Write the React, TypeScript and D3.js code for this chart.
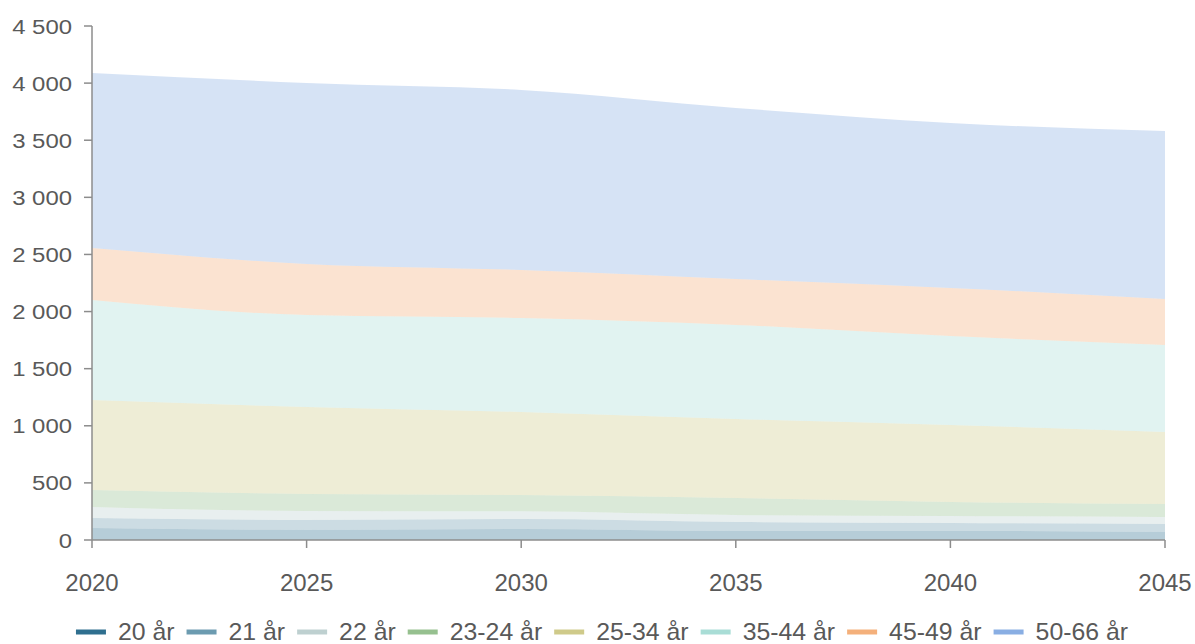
import React, { useRef, useEffect } from "react";
import * as d3 from "d3";

const years = [2020, 2025, 2030, 2035, 2040, 2045];
const groups = ["20 år", "21 år", "22 år", "23-24 år", "25-34 år", "35-44 år", "45-49 år", "50-66 år"];
const age20 = [105, 88, 96, 79, 79, 70];
const age21 = [88, 87, 88, 79, 70, 70];
const age22 = [96, 79, 67, 61, 61, 61];
const age23to24 = [149, 149, 143, 149, 123, 114];
const age25to34 = [788, 762, 727, 692, 674, 631];
const age35to44 = [876, 805, 823, 823, 779, 762];
const age45to49 = [455, 447, 420, 402, 421, 402];
const age50to66 = [1532, 1585, 1576, 1498, 1444, 1471];
const yTicks = [0, 500, 1000, 1500, 2000, 2500, 3000, 3500, 4000, 4500];
const colors = ["#2f6f8f", "#6c9bb0", "#bed0d0", "#96c08f", "#cfca8a", "#a9ddd6", "#f4b07b", "#89aee3"];

const W = 1195;
const H = 644;

const App: React.FC = () => {
  const svgRef = useRef<SVGSVGElement | null>(null);

  useEffect(() => {
    if (!svgRef.current) return;
    const svg = d3.select(svgRef.current);
    svg.selectAll("*").remove();

    const series = [age20, age21, age22, age23to24, age25to34, age35to44, age45to49, age50to66];
    const rows = years.map((yr, i) => {
      const r: any = { year: yr };
      groups.forEach((g, k) => (r[g] = series[k][i]));
      return r;
    });

    const x = d3.scaleLinear().domain([2020, 2045]).range([92, 1165]);
    const y = d3.scaleLinear().domain([0, 4500]).range([540, 26]);

    const stacked = d3.stack<any>().keys(groups)(rows);
    const area = d3
      .area<any>()
      .x((d) => x(d.data.year))
      .y0((d) => y(d[0]))
      .y1((d) => y(d[1]))
      .curve(d3.curveMonotoneX);

    svg
      .append("g")
      .selectAll("path")
      .data(stacked)
      .enter()
      .append("path")
      .attr("d", area as any)
      .attr("fill", (d, i) => colors[i])
      .attr("fill-opacity", 0.35);

    const axisColor = "#8c8c8c";
    const textColor = "#595959";

    // y axis
    const yAxis = svg.append("g");
    yAxis
      .append("line")
      .attr("x1", 92)
      .attr("x2", 92)
      .attr("y1", y(4500))
      .attr("y2", y(0))
      .attr("stroke", axisColor)
      .attr("stroke-width", 1.5);
    yTicks.forEach((t) => {
      yAxis
        .append("line")
        .attr("x1", 84)
        .attr("x2", 92)
        .attr("y1", y(t))
        .attr("y2", y(t))
        .attr("stroke", axisColor)
        .attr("stroke-width", 1.5);
      yAxis
        .append("text")
        .attr("transform", `translate(72,${y(t) + 7.5}) scale(1.14,1)`)
        .attr("text-anchor", "end")
        .attr("font-size", 21)
        .attr("fill", textColor)
        .text(d3.format(",")(t).replace(/,/g, " "));
    });

    // x axis
    const xAxis = svg.append("g");
    xAxis
      .append("line")
      .attr("x1", x(2020))
      .attr("x2", x(2045))
      .attr("y1", 540)
      .attr("y2", 540)
      .attr("stroke", axisColor)
      .attr("stroke-width", 1.5);
    years.forEach((yr) => {
      xAxis
        .append("line")
        .attr("x1", x(yr))
        .attr("x2", x(yr))
        .attr("y1", 540)
        .attr("y2", 548)
        .attr("stroke", axisColor)
        .attr("stroke-width", 1.5);
      xAxis
        .append("text")
        .attr("x", x(yr))
        .attr("y", 591)
        .attr("text-anchor", "middle")
        .attr("font-size", 24)
        .attr("fill", textColor)
        .text(String(yr));
    });

    // legend
    const legend = svg.append("g");
    let cx = 0;
    const stretch = 1.08;
    groups.forEach((g, i) => {
      const item = legend.append("g").attr("transform", `translate(${cx},0)`);
      item
        .append("line")
        .attr("x1", 0)
        .attr("x2", 30)
        .attr("y1", 632)
        .attr("y2", 632)
        .attr("stroke", colors[i])
        .attr("stroke-width", 5);
      const txt = item
        .append("text")
        .attr("transform", `translate(42,640) scale(${stretch},1)`)
        .attr("font-size", 23)
        .attr("fill", textColor)
        .text(g);
      const w = (txt.node() as SVGTextElement).getComputedTextLength() * stretch;
      cx += 42 + w + 12;
    });
    const total = cx - 12;
    legend.attr("transform", `translate(${602 - total / 2},0)`);
  }, []);

  return (
    <svg
      ref={svgRef}
      width={W}
      height={H}
      style={{ position: "absolute", left: 0, top: 0, fontFamily: "Liberation Sans, Arial, sans-serif", background: "#fff" }}
    ></svg>
  );
};

export default App;
